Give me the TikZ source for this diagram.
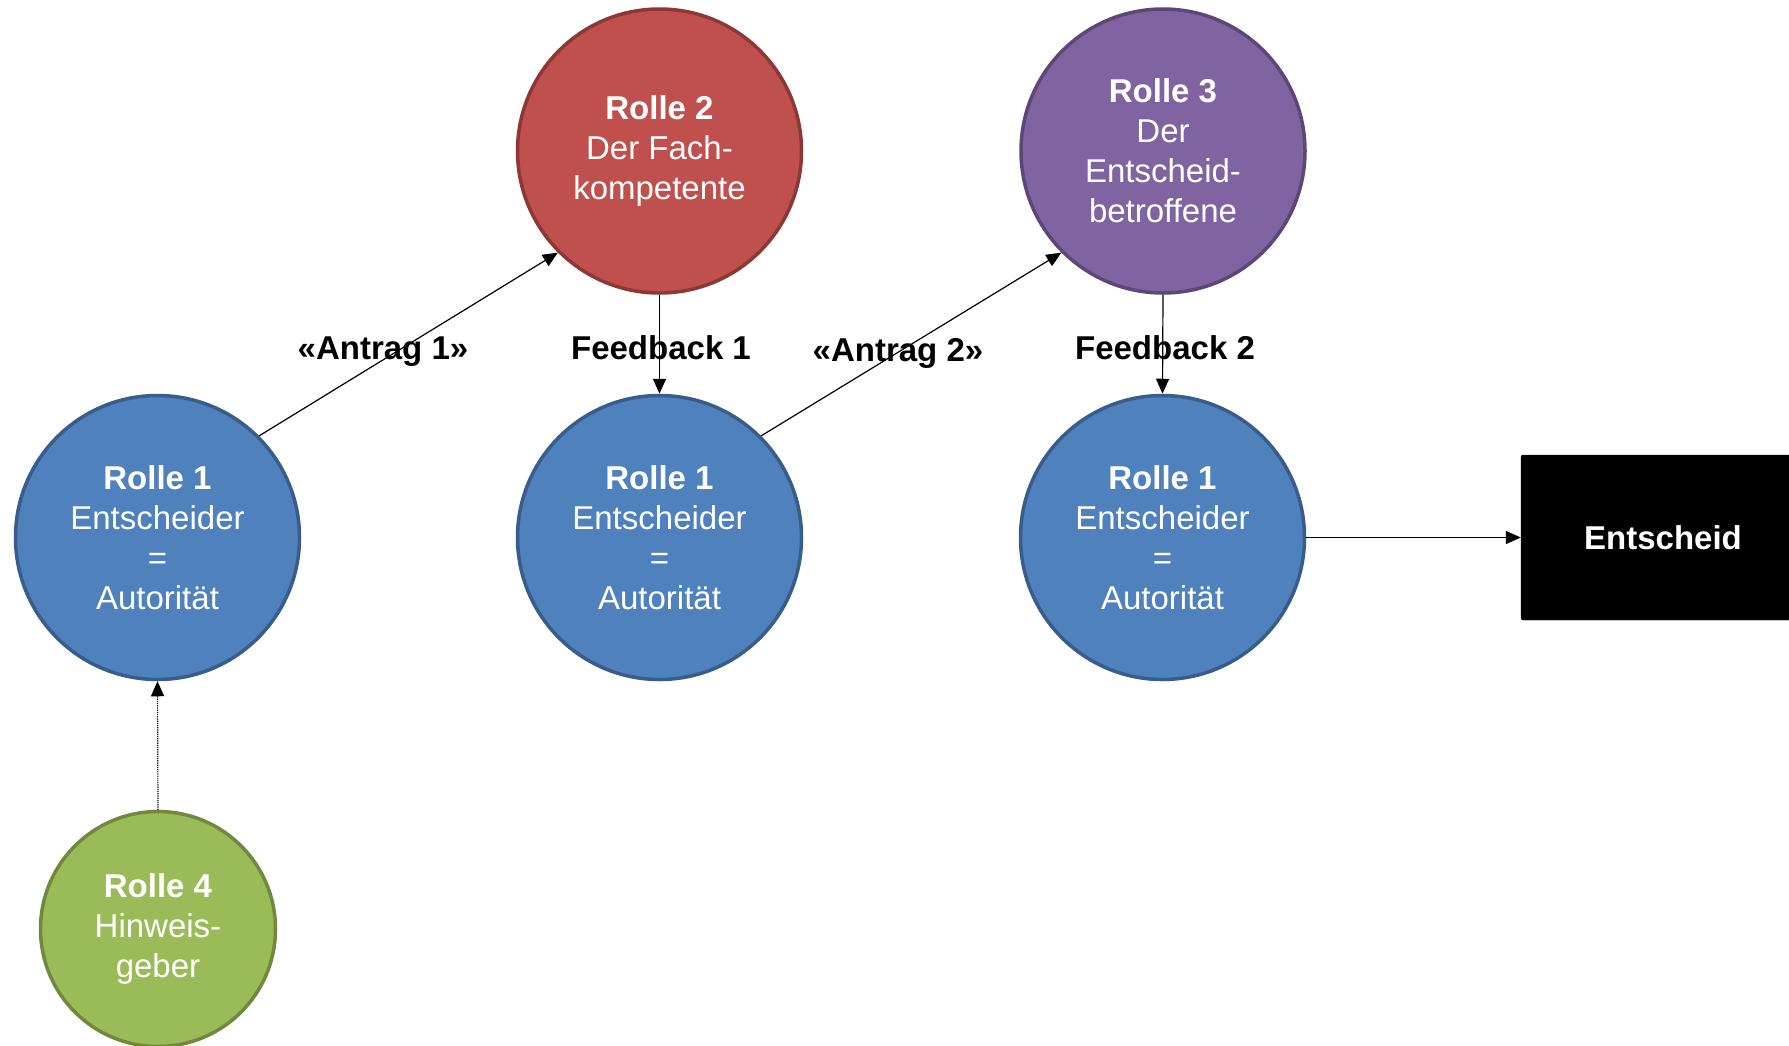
\documentclass[tikz,border=0pt]{standalone}
\usepackage{fontspec}
\setmainfont{Liberation Sans}
\usetikzlibrary{arrows.meta}
\definecolor{blueF}{HTML}{4F81BD}
\definecolor{blueD}{HTML}{385D8A}
\definecolor{redF}{HTML}{C0504D}
\definecolor{redD}{HTML}{8C3836}
\definecolor{purF}{HTML}{8064A2}
\definecolor{purD}{HTML}{5C4776}
\definecolor{grnF}{HTML}{9BBB59}
\definecolor{grnD}{HTML}{71893F}
\begin{document}
\begin{tikzpicture}[x=1pt,y=-1pt,
  role/.style={circle, minimum size=284pt, inner sep=0pt, line width=3.5pt, text=white, align=center,
    font=\fontsize{33}{40}\selectfont},
  conn/.style={line width=1.2pt, -{Triangle[length=15pt,width=13pt]}},
  lbl/.style={font=\fontsize{33}{40}\selectfont\bfseries, inner sep=0pt}]
\useasboundingbox (0,0) rectangle (1789,1045);
\clip (0,0) rectangle (1789,1045);

\node[role, fill=blueF, draw=blueD] (r1a) at (157.5,537.5) {\textbf{Rolle 1}\\Entscheider\\=\\Autorität};
\node[role, fill=blueF, draw=blueD] (r1b) at (659.5,537.5) {\textbf{Rolle 1}\\Entscheider\\=\\Autorität};
\node[role, fill=blueF, draw=blueD] (r1c) at (1162.5,537.5) {\textbf{Rolle 1}\\Entscheider\\=\\Autorität};
\node[role, fill=redF, draw=redD] (r2) at (659.5,151) {\textbf{Rolle 2}\\Der Fach-\\kompetente};
\node[role, fill=purF, draw=purD] (r3) at (1163,151) {\textbf{Rolle 3}\\Der\\Entscheid-\\betroffene};
\node[role, fill=grnF, draw=grnD, minimum size=235pt] (r4) at (158,929) {\textbf{Rolle 4}\\Hinweis-\\geber};

\node[fill=black, draw=black, rounded corners=2pt, minimum width=284pt, minimum height=165pt,
  text=white, font=\fontsize{33}{40}\selectfont\bfseries] (ent) at (1663,537.5) {Entscheid};

\draw[conn] (r1a.45) -- (r2.225);
\draw[conn] (r2.south) -- (r1b.north);
\draw[conn] (r1b.45) -- (r3.225);
\draw[conn] (r3.south) -- (r1c.north);
\draw[conn] (r1c.east) -- (ent.west);
\draw[conn, densely dotted] (r4.north) -- (r1a.south);

\node[lbl] (la1) at (383,352) {«Antrag 1»};
\node[lbl] (lf1) at (661,348) {Feedback 1};
\node[lbl] (la2) at (898,353) {«Antrag 2»};
\node[lbl] (lf2) at (1165,348) {Feedback 2};
\end{tikzpicture}
\end{document}
